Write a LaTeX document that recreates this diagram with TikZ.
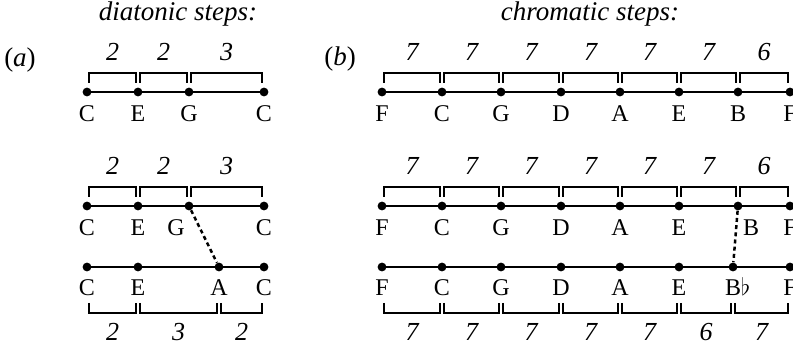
\documentclass[tikz,border=0pt]{standalone}
\usepackage{fontspec}
\setmainfont{Liberation Serif}
\usetikzlibrary{calc}

\begin{document}
\begin{tikzpicture}[x=0.5pt,y=-0.5pt,
    dot/.style={circle, fill, inner sep=0pt, minimum size=4.4pt},
    note/.style={anchor=base, inner sep=0pt, font=\fontsize{12}{14}\selectfont},
    num/.style={anchor=base, inner sep=0pt, font=\fontsize{13}{15}\selectfont\itshape},
    ttl/.style={anchor=base, inner sep=0pt, font=\fontsize{13.5}{15}\selectfont},
    brk/.style={line width=1.25pt},
    bar/.style={line width=0.6pt}]
                \useasboundingbox (0,0) rectangle (793,346);
                % Titles
                \node[ttl] (dia) at (178,21) {\itshape diatonic steps:};
                \node[ttl] (chr) at (590,21) {\itshape chromatic steps:};
                \node[ttl] (pa) at (20,67) {(\textit{a})};
                \node[ttl] (pb) at (340,66) {(\textit{b})};
                % Nodes (a)
                \foreach \n/\x in {1/87,2/138,3/189,4/264} {
                    \node[dot] (aa\n) at (\x,92) {};
                    \node[dot] (ab\n) at (\x,206) {};
                }
                \foreach \n/\x in {1/87,2/138,3/219,4/264}
                    \node[dot] (ac\n) at (\x,267) {};
                % Nodes (b)
                \foreach \n/\x in {1/382,2/442,3/501,4/561,5/620,6/679,7/738,8/790} {
                    \node[dot] (ba\n) at (\x,92) {};
                    \node[dot] (bb\n) at (\x,206) {};
                }
                \foreach \n/\x in {1/382,2/442,3/501,4/561,5/620,6/679,7/733,8/790}
                    \node[dot] (bc\n) at (\x,267) {};
                % Lines
                \foreach \r in {aa,ab,ac}
                    \draw[bar] (\r1.center) -- (\r4.center);
                \foreach \r in {ba,bb,bc}
                    \draw[bar] (\r1.center) -- (\r8.center);
                \draw[brk, dash pattern=on 2pt off 1.6pt] (ab3) -- (ac3);
                \draw[brk, dash pattern=on 2pt off 1.6pt] (bb7) -- (bc7);
                % Note names
                \foreach \n/\t in {1/C,2/E,3/G,4/C}
                    \node[note] (laa\n) at ($(aa\n)+(0,30)$) {\t};
                \foreach \n/\t in {1/C,2/E,4/C}
                    \node[note] (lab\n) at ($(ab\n)+(0,30)$) {\t};
                \node[note] (lab3) at ($(ab3)+(-13,30)$) {G};
                \foreach \n/\t in {1/C,2/E,3/A,4/C}
                    \node[note] (lac\n) at ($(ac\n)+(0,29)$) {\t};
                \foreach \n/\t in {1/F,2/C,3/G,4/D,5/A,6/E,7/B,8/F}
                    \node[note] (lba\n) at ($(ba\n)+(0,30)$) {\t};
                \foreach \n/\t in {1/F,2/C,3/G,4/D,5/A,6/E,8/F}
                    \node[note] (lbb\n) at ($(bb\n)+(0,30)$) {\t};
                \node[note] (lbb7) at ($(bb7)+(13,30)$) {B};
                \foreach \n/\t in {1/F,2/C,3/G,4/D,5/A,6/E,7/{B\rlap{$\flat$}},8/F}
                    \node[note] (lbc\n) at ($(bc\n)+(0,29)$) {\t};
                % Steps above
                \foreach \p/\q/\t in {aa1/aa2/2,aa2/aa3/2,aa3/aa4/3,ab1/ab2/2,ab2/ab3/2,ab3/ab4/3,
                        ba1/ba2/7,ba2/ba3/7,ba3/ba4/7,ba4/ba5/7,ba5/ba6/7,ba6/ba7/7,ba7/ba8/6,
                        bb1/bb2/7,bb2/bb3/7,bb3/bb4/7,bb4/bb5/7,bb5/bb6/7,bb6/bb7/7,bb7/bb8/6} {
                    \draw[brk] ($(\p)+(2,-9)$) |- ($(\q)+(-2,-19)$) -- ($(\q)+(-2,-9)$);
                    \node[num] (n\p) at ($(\p)!0.5!(\q)+(0,-31)$) {\t};
                }
                % Steps below
                \foreach \p/\q/\t in {ac1/ac2/2,ac2/ac3/3,ac3/ac4/2,
                        bc1/bc2/7,bc2/bc3/7,bc3/bc4/7,bc4/bc5/7,bc5/bc6/7,bc6/bc7/6,bc7/bc8/7} {
                    \draw[brk] ($(\p)+(2,36)$) |- ($(\q)+(-2,46)$) -- ($(\q)+(-2,36)$);
                    \node[num] (m\p) at ($(\p)!0.5!(\q)+(0,74)$) {\t};
                }
            \end{tikzpicture}
\end{document}
